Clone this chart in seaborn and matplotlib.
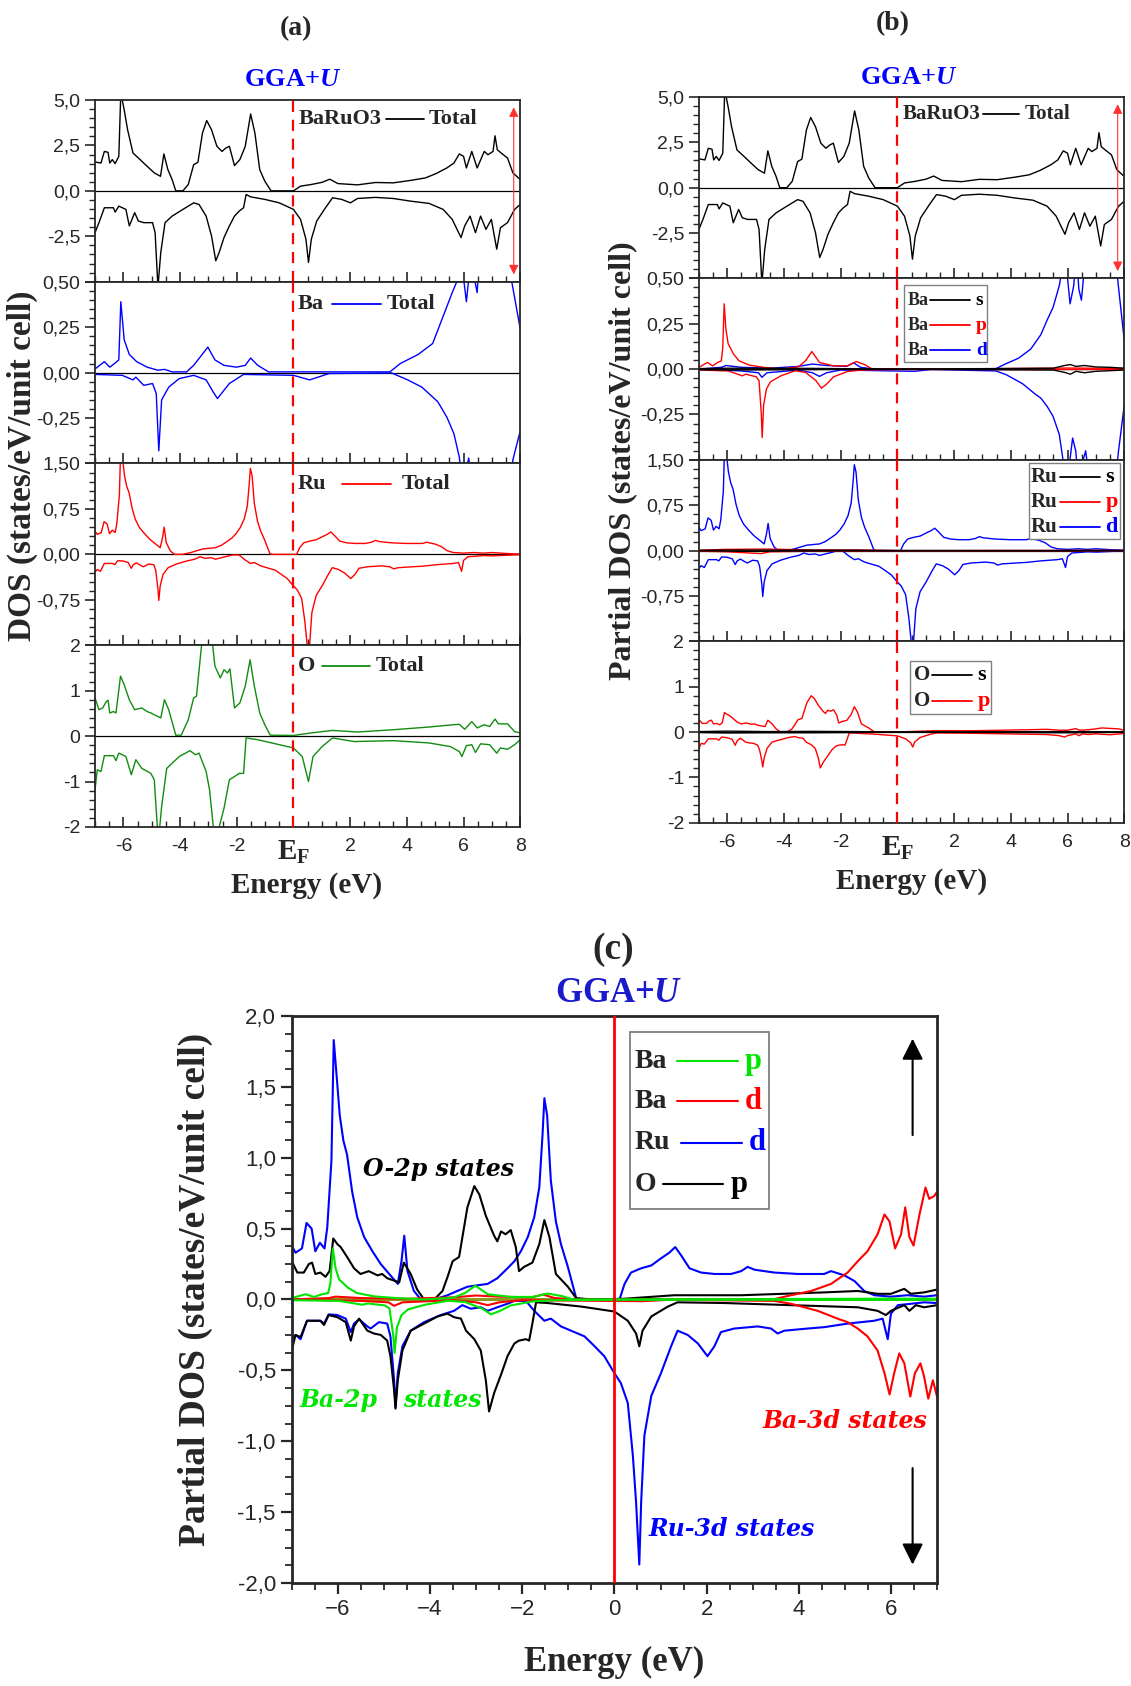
import numpy as np
import matplotlib
matplotlib.use("Agg")
import matplotlib.pyplot as plt
import seaborn as sns
from matplotlib.patches import Rectangle
from matplotlib.ticker import MultipleLocator

# ---- DOS curves: (energy eV, DOS) ----
TOT_UP = [(-7.0, 1.59), (-6.79, 1.53), (-6.67, 2.17), (-6.54, 2.12), (-6.48, 1.53), (-6.39, 1.72), (-6.29, 1.50),
          (-6.16, 1.90), (-6.09, 5.4), (-5.97, 4.45), (-5.85, 3.36), (-5.66, 2.08), (-5.41, 1.72), (-5.16, 1.35),
          (-4.91, 0.99), (-4.69, 0.80), (-4.57, 2.03), (-4.43, 1.17), (-4.28, 0.62), (-4.15, 0.0), (-3.90, 0.0),
          (-3.71, 0.35), (-3.52, 1.44), (-3.37, 1.57), (-3.21, 3.18), (-3.06, 3.87), (-2.89, 3.36), (-2.70, 2.45),
          (-2.52, 2.17), (-2.39, 2.35), (-2.26, 2.45), (-2.08, 1.39), (-1.89, 1.72), (-1.70, 2.45), (-1.51, 4.23),
          (-1.36, 3.18), (-1.19, 1.17), (-1.01, 0.53), (-0.79, 0.0), (0.0, 0.0), (0.25, 0.26), (0.63, 0.35),
          (1.01, 0.47), (1.28, 0.64), (1.57, 0.40), (2.26, 0.33), (2.89, 0.46), (3.52, 0.44), (4.15, 0.58),
          (4.65, 0.71), (5.03, 0.95), (5.41, 1.26), (5.66, 1.53), (5.85, 2.03), (6.0, 1.90), (6.10, 1.26),
          (6.29, 2.17), (6.48, 1.26), (6.73, 2.17), (6.86, 1.99), (7.04, 2.17), (7.11, 3.03), (7.19, 2.26),
          (7.36, 2.04), (7.55, 1.81), (7.74, 0.99), (8.0, 0.62)]
TOT_DN = [(-7.0, -2.30), (-6.86, -1.75), (-6.67, -0.93), (-6.35, -0.93), (-6.29, -1.17), (-6.16, -0.84), (-5.91, -1.02),
          (-5.79, -1.93), (-5.60, -1.20), (-5.47, -1.66), (-5.28, -1.75), (-4.97, -1.75), (-4.88, -2.30), (-4.78, -5.3),
          (-4.68, -3.39), (-4.53, -1.75), (-4.28, -1.39), (-3.90, -1.02), (-3.52, -0.66), (-3.33, -0.75), (-3.08, -1.39),
          (-2.89, -2.48), (-2.74, -3.85), (-2.62, -3.39), (-2.45, -2.57), (-2.26, -1.93), (-2.08, -1.39), (-1.91, -1.11),
          (-1.76, -0.93), (-1.67, -0.20), (-1.51, -0.33), (-1.01, -0.47), (-0.50, -0.66), (0.0, -1.02), (0.25, -1.57),
          (0.44, -2.66), (0.53, -3.94), (0.63, -2.66), (0.82, -1.66), (1.13, -0.93), (1.38, -0.38), (1.70, -0.47),
          (2.01, -0.66), (2.26, -0.42), (2.89, -0.36), (3.52, -0.42), (4.15, -0.57), (4.78, -0.69), (5.28, -1.02),
          (5.60, -1.57), (5.91, -2.57), (6.04, -1.93), (6.23, -1.39), (6.42, -2.30), (6.60, -1.39), (6.79, -2.12),
          (6.98, -1.57), (7.17, -3.21), (7.30, -2.03), (7.55, -1.75), (7.80, -1.02), (8.0, -0.75)]

BA_TOT_UP = [(-7.0, 0.02), (-6.67, 0.06), (-6.48, 0.03), (-6.31, 0.05), (-6.16, 0.07), (-6.09, 0.39), (-5.97, 0.18),
             (-5.79, 0.10), (-5.53, 0.06), (-5.16, 0.03), (-4.78, 0.013), (-4.55, 0.018), (-4.28, 0.004), (-3.77, 0.004),
             (-3.52, 0.04), (-3.27, 0.09), (-3.02, 0.14), (-2.77, 0.07), (-2.45, 0.04), (-2.01, 0.03), (-1.70, 0.04),
             (-1.51, 0.08), (-1.26, 0.04), (-0.88, 0.004), (3.40, 0.004), (3.77, 0.05), (4.40, 0.10), (4.91, 0.16),
             (5.28, 0.31), (5.60, 0.44), (5.76, 0.50), (5.90, 0.65), (6.10, 0.39), (6.25, 0.62), (6.48, 0.44),
             (6.60, 0.75), (7.0, 0.9), (7.5, 0.8), (7.70, 0.50), (8.0, 0.24)]
BA_TOT_DN = [(-7.0, -0.01), (-6.04, -0.015), (-5.66, -0.04), (-5.56, -0.025), (-5.28, -0.07), (-4.97, -0.06),
             (-4.84, -0.115), (-4.75, -0.43), (-4.65, -0.15), (-4.40, -0.08), (-4.03, -0.033), (-3.52, -0.015),
             (-3.08, -0.04), (-2.83, -0.107), (-2.68, -0.143), (-2.45, -0.097), (-2.26, -0.06), (-1.76, -0.01),
             (0.0, -0.015), (0.57, -0.04), (1.26, -0.005), (3.46, -0.002), (4.03, -0.04), (4.53, -0.08), (4.97, -0.143),
             (5.09, -0.16), (5.41, -0.245), (5.66, -0.336), (5.85, -0.465), (5.95, -0.60), (6.12, -0.52), (6.18, -0.47),
             (6.30, -0.60), (6.55, -0.52), (6.65, -0.65), (7.0, -0.8), (7.6, -0.7), (7.74, -0.48), (8.0, -0.32)]

O_TOT_UP = [(-7.0, 0.84), (-6.86, 0.58), (-6.73, 0.62), (-6.60, 0.76), (-6.54, 0.79), (-6.48, 0.51), (-6.35, 0.54),
            (-6.26, 0.51), (-6.10, 1.32), (-5.97, 1.13), (-5.79, 0.80), (-5.60, 0.58), (-5.35, 0.62), (-5.16, 0.54),
            (-5.03, 0.51), (-4.91, 0.47), (-4.68, 0.40), (-4.55, 0.80), (-4.40, 0.58), (-4.15, 0.02), (-3.96, 0.02),
            (-3.71, 0.36), (-3.52, 0.84), (-3.42, 0.88), (-3.21, 2.2), (-3.0, 2.3), (-2.85, 2.0), (-2.77, 1.54),
            (-2.58, 1.28), (-2.45, 1.46), (-2.33, 1.39), (-2.24, 1.48), (-2.08, 0.62), (-1.89, 0.73), (-1.70, 1.10),
            (-1.53, 1.68), (-1.38, 1.10), (-1.19, 0.51), (-1.01, 0.25), (-0.82, 0.02), (0.0, 0.015), (0.63, 0.07),
            (1.38, 0.125), (2.26, 0.09), (3.52, 0.14), (4.78, 0.20), (5.28, 0.23), (5.85, 0.26), (6.04, 0.15),
            (6.29, 0.32), (6.48, 0.18), (6.73, 0.25), (6.92, 0.21), (7.11, 0.375), (7.23, 0.27), (7.55, 0.27),
            (7.80, 0.10), (8.0, 0.07)]
O_TOT_DN = [(-7.0, -1.18), (-6.92, -0.74), (-6.79, -0.78), (-6.67, -0.43), (-6.35, -0.43), (-6.26, -0.54),
            (-6.16, -0.375), (-5.91, -0.45), (-5.72, -0.85), (-5.56, -0.52), (-5.35, -0.71), (-5.03, -0.82),
            (-4.91, -0.96), (-4.81, -1.92), (-4.76, -2.3), (-4.65, -1.55), (-4.47, -0.71), (-4.03, -0.45),
            (-3.65, -0.32), (-3.46, -0.41), (-3.33, -0.375), (-3.08, -0.78), (-2.96, -1.18), (-2.81, -2.1),
            (-2.72, -2.6), (-2.62, -2.0), (-2.45, -1.59), (-2.26, -0.96), (-2.08, -0.89), (-1.91, -0.82),
            (-1.76, -0.82), (-1.67, -0.04), (-1.26, -0.08), (0.0, -0.26), (0.31, -0.45), (0.53, -1.0), (0.69, -0.45),
            (1.01, -0.23), (1.38, -0.04), (1.76, -0.08), (2.14, -0.12), (3.52, -0.10), (4.78, -0.15), (5.53, -0.23),
            (5.85, -0.34), (5.94, -0.45), (6.10, -0.21), (6.29, -0.19), (6.42, -0.36), (6.60, -0.17), (6.92, -0.19),
            (7.17, -0.375), (7.30, -0.26), (7.55, -0.29), (7.80, -0.19), (8.0, -0.08)]

RU_D_UP = [(-7.0, 0.38), (-6.92, 0.33), (-6.78, 0.36), (-6.68, 0.54), (-6.57, 0.50), (-6.49, 0.34), (-6.39, 0.40),
           (-6.29, 0.36), (-6.23, 0.51), (-6.14, 0.98), (-6.09, 1.83), (-6.04, 1.63), (-5.96, 1.30), (-5.88, 1.12),
           (-5.80, 1.02), (-5.69, 0.76), (-5.58, 0.58), (-5.43, 0.44), (-5.25, 0.34), (-5.07, 0.25), (-4.86, 0.17),
           (-4.70, 0.11), (-4.62, 0.27), (-4.56, 0.45), (-4.49, 0.20), (-4.35, 0.06), (-4.20, 0.0), (-3.91, 0.0),
           (-3.62, 0.03), (-3.41, 0.06), (-3.19, 0.09), (-2.97, 0.10), (-2.75, 0.11), (-2.54, 0.15), (-2.32, 0.22),
           (-2.17, 0.27), (-2.03, 0.34), (-1.88, 0.44), (-1.74, 0.58), (-1.63, 0.79), (-1.56, 1.16), (-1.52, 1.42),
           (-1.46, 1.30), (-1.38, 0.84), (-1.27, 0.55), (-1.16, 0.39), (-1.01, 0.23), (-0.83, 0.01), (-0.75, 0.0),
           (0.11, 0.0), (0.22, 0.11), (0.36, 0.19), (0.58, 0.22), (0.80, 0.24), (1.01, 0.29), (1.19, 0.33),
           (1.32, 0.37), (1.45, 0.31), (1.63, 0.22), (1.88, 0.19), (2.17, 0.18), (2.53, 0.18), (2.75, 0.20),
           (2.89, 0.23), (3.04, 0.21), (3.47, 0.19), (3.98, 0.18), (4.55, 0.18), (4.70, 0.20), (4.99, 0.17),
           (5.21, 0.13), (5.42, 0.06), (5.64, 0.03), (6.0, 0.02), (6.36, 0.03), (6.72, 0.02), (7.0, 0.03),
           (7.5, 0.015), (8.0, 0.005)]
RU_D_DN = [(-7.0, -0.29), (-6.92, -0.25), (-6.81, -0.28), (-6.67, -0.15), (-6.38, -0.15), (-6.30, -0.17),
           (-6.20, -0.105), (-6.01, -0.11), (-5.83, -0.135), (-5.72, -0.23), (-5.65, -0.17), (-5.54, -0.14),
           (-5.36, -0.19), (-5.29, -0.205), (-5.11, -0.16), (-4.93, -0.17), (-4.86, -0.26), (-4.78, -0.57),
           (-4.75, -0.76), (-4.70, -0.52), (-4.60, -0.33), (-4.42, -0.22), (-4.13, -0.16), (-3.77, -0.11),
           (-3.48, -0.08), (-3.30, -0.04), (-3.12, -0.065), (-2.90, -0.055), (-2.75, -0.08), (-2.54, -0.055),
           (-2.32, -0.03), (-2.17, -0.01), (-1.92, -0.01), (-1.74, -0.08), (-1.52, -0.15), (-1.38, -0.135),
           (-1.16, -0.19), (-0.87, -0.23), (-0.65, -0.26), (-0.43, -0.33), (-0.22, -0.40), (0.0, -0.52),
           (0.14, -0.59), (0.29, -0.73), (0.40, -1.10), (0.47, -1.43), (0.54, -1.87), (0.58, -1.43), (0.65, -0.96),
           (0.80, -0.68), (1.01, -0.52), (1.23, -0.33), (1.37, -0.22), (1.59, -0.25), (1.81, -0.31), (2.02, -0.40),
           (2.17, -0.33), (2.31, -0.23), (2.60, -0.205), (3.11, -0.19), (3.40, -0.205), (3.54, -0.24), (3.69, -0.22),
           (4.19, -0.205), (4.56, -0.195), (5.06, -0.17), (5.64, -0.15), (5.82, -0.135), (5.93, -0.28), (6.0, -0.10),
           (6.15, -0.04), (6.44, -0.03), (6.72, -0.02), (7.0, -0.025), (7.5, -0.015), (8.0, -0.005)]

O_P_UP = [(-7.0, 0.27), (-6.88, 0.19), (-6.74, 0.19), (-6.63, 0.25), (-6.56, 0.26), (-6.49, 0.18), (-6.38, 0.19),
          (-6.27, 0.16), (-6.18, 0.20), (-6.10, 0.43), (-6.01, 0.39), (-5.94, 0.37), (-5.80, 0.30), (-5.65, 0.22),
          (-5.51, 0.18), (-5.33, 0.20), (-5.14, 0.17), (-5.04, 0.18), (-4.93, 0.15), (-4.75, 0.13), (-4.67, 0.12),
          (-4.57, 0.26), (-4.42, 0.18), (-4.28, 0.07), (-4.13, 0.0), (-3.91, 0.0), (-3.73, 0.06), (-3.62, 0.16),
          (-3.51, 0.27), (-3.37, 0.30), (-3.19, 0.65), (-3.04, 0.80), (-2.93, 0.74), (-2.79, 0.59), (-2.61, 0.45),
          (-2.54, 0.41), (-2.46, 0.48), (-2.36, 0.46), (-2.25, 0.49), (-2.14, 0.37), (-2.07, 0.20), (-1.96, 0.23),
          (-1.78, 0.26), (-1.63, 0.39), (-1.52, 0.56), (-1.41, 0.44), (-1.27, 0.18), (-1.01, 0.09), (-0.83, 0.01),
          (-0.5, 0.0), (0.2, 0.005), (1.3, 0.03), (2.75, 0.03), (4.55, 0.05), (5.28, 0.06), (5.71, 0.04), (6.0, 0.04),
          (6.29, 0.075), (6.43, 0.04), (6.72, 0.05), (7.0, 0.07), (7.2, 0.09), (7.5, 0.08), (7.8, 0.07), (8.0, 0.04)]
O_P_DN = [(-7.0, -0.36), (-6.92, -0.25), (-6.81, -0.265), (-6.67, -0.15), (-6.38, -0.15), (-6.30, -0.18),
          (-6.20, -0.11), (-6.01, -0.125), (-5.83, -0.16), (-5.72, -0.29), (-5.65, -0.19), (-5.54, -0.135),
          (-5.36, -0.22), (-5.22, -0.24), (-5.07, -0.25), (-4.93, -0.29), (-4.86, -0.40), (-4.78, -0.64),
          (-4.75, -0.77), (-4.70, -0.57), (-4.60, -0.36), (-4.42, -0.22), (-4.13, -0.17), (-3.84, -0.12),
          (-3.62, -0.10), (-3.48, -0.125), (-3.33, -0.135), (-3.22, -0.22), (-3.04, -0.28), (-2.90, -0.36),
          (-2.79, -0.57), (-2.72, -0.79), (-2.61, -0.66), (-2.46, -0.53), (-2.32, -0.40), (-2.17, -0.31),
          (-2.07, -0.29), (-1.92, -0.28), (-1.85, -0.29), (-1.78, -0.17), (-1.70, -0.02), (-1.45, -0.025),
          (-0.72, -0.05), (0.0, -0.085), (0.29, -0.15), (0.47, -0.24), (0.54, -0.33), (0.61, -0.22), (0.80, -0.12),
          (1.16, -0.05), (1.37, -0.02), (2.39, -0.025), (3.83, -0.04), (5.28, -0.055), (5.71, -0.08), (5.89, -0.11),
          (6.0, -0.08), (6.29, -0.04), (6.40, -0.08), (6.54, -0.04), (6.72, -0.055), (7.0, -0.04), (7.5, -0.06),
          (8.0, -0.03)]

BA_P_UP = [(-7.0, 0.01), (-6.7, 0.037), (-6.52, 0.018), (-6.34, 0.037), (-6.21, 0.046), (-6.16, 0.12), (-6.11, 0.36),
           (-6.05, 0.22), (-5.97, 0.14), (-5.78, 0.083), (-5.59, 0.046), (-5.22, 0.022), (-4.73, 0.01), (-4.11, 0.0),
           (-3.49, 0.013), (-3.24, 0.046), (-3.02, 0.097), (-2.85, 0.06), (-2.75, 0.037), (-2.25, 0.018),
           (-1.76, 0.018), (-1.45, 0.042), (-1.14, 0.024), (-0.89, 0.0), (3.0, 0.002), (6.0, 0.006), (7.0, 0.005),
           (8.0, 0.004)]
BA_P_DN = [(-7.0, -0.005), (-5.97, -0.01), (-5.47, -0.037), (-5.35, -0.028), (-4.98, -0.042), (-4.88, -0.064),
           (-4.80, -0.25), (-4.77, -0.377), (-4.72, -0.2), (-4.62, -0.11), (-4.48, -0.07), (-4.11, -0.037),
           (-3.61, -0.009), (-3.24, -0.018), (-2.87, -0.064), (-2.68, -0.105), (-2.50, -0.083), (-2.25, -0.042),
           (-1.76, -0.013), (-1.26, -0.005), (0.0, -0.002), (8.0, -0.002)]

BA_D_UP = [(-7.0, 0.0), (-6.2, 0.01), (-6.05, 0.02), (-5.5, 0.01), (-4.5, 0.005), (-3.5, 0.015), (-3.0, 0.028),
           (-2.5, 0.02), (-1.8, 0.015), (-1.55, 0.035), (-1.3, 0.01), (-0.8, 0.0), (3.44, 0.0), (3.83, 0.03),
           (4.27, 0.06), (4.70, 0.11), (5.06, 0.19), (5.28, 0.27), (5.49, 0.34), (5.71, 0.46), (5.86, 0.60),
           (5.97, 0.55), (6.09, 0.36), (6.22, 0.46), (6.31, 0.65), (6.40, 0.44), (6.49, 0.38), (6.62, 0.60),
           (6.75, 0.79), (6.83, 0.71), (6.94, 0.73), (7.0, 0.76), (7.3, 0.82), (7.6, 0.75), (7.8, 0.45), (8.0, 0.16)]
BA_D_DN = [(-7.0, 0.0), (-5.5, -0.01), (-4.9, -0.02), (-4.78, -0.045), (-4.6, -0.02), (-3.5, -0.005), (-3.0, -0.02),
           (-2.75, -0.04), (-2.5, -0.02), (-2.0, -0.005), (0.6, -0.012), (1.2, -0.002), (3.47, -0.01), (3.83, -0.03),
           (4.41, -0.08), (4.84, -0.135), (5.06, -0.16), (5.28, -0.205), (5.49, -0.26), (5.71, -0.36), (5.86, -0.52),
           (5.97, -0.67), (6.07, -0.52), (6.18, -0.38), (6.29, -0.45), (6.42, -0.685), (6.52, -0.52), (6.64, -0.45),
           (6.72, -0.545), (6.81, -0.70), (6.91, -0.57), (7.0, -0.685), (7.3, -0.8), (7.6, -0.75), (7.8, -0.45),
           (8.0, -0.2)]

BA_S_UP = [(-7.0, 0.003), (-6.0, 0.005), (-3.0, 0.004), (0.0, 0.0), (5.5, 0.005), (5.9, 0.02), (6.1, 0.025),
           (6.3, 0.015), (6.6, 0.02), (7.0, 0.012), (7.5, 0.01), (8.0, 0.005)]
BA_S_DN = [(-7.0, -0.003), (-6.0, -0.005), (0.0, 0.0), (5.5, -0.005), (5.9, -0.018), (6.1, -0.028), (6.3, -0.012),
           (6.6, -0.02), (7.0, -0.012), (8.0, -0.005)]
RU_S_UP = [(-7.0, 0.004), (-6.1, 0.008), (-1.5, 0.006), (0.0, 0.0), (8.0, 0.002)]
RU_S_DN = [(-7.0, -0.004), (-4.8, -0.01), (0.0, 0.0), (8.0, -0.002)]
RU_P_UP = [(-7.0, 0.005), (-6.1, 0.02), (-4.6, 0.025), (-3.0, 0.01), (-1.5, 0.01), (0.0, 0.0), (8.0, 0.003)]
RU_P_DN = [(-7.0, -0.01), (-6.0, -0.02), (-4.8, -0.05), (-4.5, -0.02), (-3.0, -0.01), (0.0, -0.003), (8.0, -0.003)]
O_S_UP = [(-7.0, 0.01), (-6.0, 0.02), (-4.6, 0.01), (-3.0, 0.015), (-1.5, 0.01), (0.0, 0.0), (6.0, 0.01), (8.0, 0.005)]
O_S_DN = [(-7.0, -0.01), (-6.0, -0.02), (-4.7, -0.015), (-3.0, -0.015), (-1.5, -0.01), (0.0, 0.0), (6.0, -0.015),
          (8.0, -0.005)]

# ---- styling ----
sns.set_style("ticks")
plt.rcParams['font.family'] = ['Liberation Sans', 'DejaVu Sans']
plt.rcParams['mathtext.fontset'] = 'custom'
plt.rcParams['mathtext.rm'] = 'Liberation Serif:bold'
plt.rcParams['mathtext.bf'] = 'Liberation Serif:bold'
plt.rcParams['mathtext.it'] = 'Liberation Serif:italic:bold'

SERIF = 'Liberation Serif'
ITAL = 'DejaVu Serif'
OGREEN = '#118c11'
LIME = '#00e600'


def curve(ax, pts, color, lw=1.0):
    arr = np.array(pts)
    sns.lineplot(x=arr[:, 0], y=arr[:, 1], ax=ax, color=color, lw=lw,
                 sort=False, estimator=None, legend=False)


def fmt(v, nd):
    if nd == 0:
        return '%d' % v
    return ('%.*f' % (nd, v)).replace('.', ',')


def legend_row(ax, y, left, l0, l1, right_x, right, color, size):
    ax.text(left[0], y, left[1], transform=ax.transAxes, ha='left', va='center',
            family=SERIF, weight='bold', size=size)
    ax.plot([l0, l1], [y, y], transform=ax.transAxes, color=color, lw=1.3)
    ax.text(right_x, y, right, transform=ax.transAxes, ha='left', va='center',
            family=SERIF, weight='bold', size=size)


ROWS = [(5.0, 2.5, 0.5, 1), (0.5, 0.25, 0.05, 2), (1.5, 0.75, 0.15, 2), (2.0, 1.0, 0.2, 0)]

fig = plt.figure(figsize=(11.31, 16.86), dpi=100)


def stack(left, right, top, bottom):
    h = (top - bottom) / 4
    axes = []
    for i, (lim, step, minor, nd) in enumerate(ROWS):
        ax = fig.add_axes([left, top - (i + 1) * h, right - left, h])
        ax.set_xlim(-7, 8)
        ax.set_ylim(-lim, lim)
        ticks = [-lim, -step, 0, step, lim]
        ax.set_yticks(ticks)
        labels = [fmt(t if t != 0 else 0.0, nd) for t in ticks]
        if i < 3:
            labels[0] = ''
        ax.set_yticklabels(labels)
        ax.yaxis.set_minor_locator(MultipleLocator(minor))
        ax.set_xticks([-6, -4, -2, 0, 2, 4, 6, 8])
        ax.xaxis.set_minor_locator(MultipleLocator(0.5))
        ax.tick_params(axis='x', which='major', direction='in', length=7, width=1.2)
        ax.tick_params(axis='x', which='minor', direction='in', length=4, width=1.0)
        ax.tick_params(axis='y', which='major', direction='out', length=7, width=1.2, labelsize=14)
        ax.tick_params(axis='y', which='minor', direction='out', length=4, width=1.0)
        if i < 3:
            ax.tick_params(axis='x', labelbottom=False)
        else:
            ax.set_xticklabels(['-6', '-4', '-2', r'$\mathbf{E_F}$', '2', '4', '6', '8'])
            ax.tick_params(axis='x', labelsize=14, pad=8)
            ax.get_xticklabels()[3].set_fontsize(21)
        for sp in ax.spines.values():
            sp.set_linewidth(1.3)
        ax.axhline(0, color='black', lw=0.9, zorder=1)
        ax.axvline(0, color='red', lw=1.6, ls=(0, (5, 3.5)), zorder=5)
        axes.append(ax)
    # spin arrow in the total panel
    axes[0].annotate('', xy=(7.77, 4.75), xytext=(7.77, -4.75),
                     arrowprops=dict(arrowstyle='<|-|>', color='#ff3030', lw=0.8, mutation_scale=14))
    return axes


# ---- panel (a) ----
A = stack(0.084, 0.460, 0.9407, 0.5095)
curve(A[0], TOT_UP, 'black'); curve(A[0], TOT_DN, 'black')
curve(A[1], BA_TOT_UP, 'blue'); curve(A[1], BA_TOT_DN, 'blue')
curve(A[2], RU_D_UP, 'red'); curve(A[2], RU_D_DN, 'red')
curve(A[3], O_TOT_UP, OGREEN); curve(A[3], O_TOT_DN, OGREEN)

legend_row(A[0], 0.896, (0.479, 'BaRuO3'), 0.685, 0.773, 0.785, 'Total', 'black', 16)
legend_row(A[1], 0.880, (0.477, 'Ba'), 0.557, 0.672, 0.685, 'Total', 'blue', 16)
legend_row(A[2], 0.888, (0.477, 'Ru'), 0.580, 0.695, 0.720, 'Total', 'red', 16)
legend_row(A[3], 0.885, (0.477, 'O'), 0.533, 0.647, 0.659, 'Total', OGREEN, 16)

# ---- panel (b) ----
B = stack(0.618, 0.994, 0.9425, 0.512)
curve(B[0], TOT_UP, 'black'); curve(B[0], TOT_DN, 'black')
for up, dn, c in [(BA_D_UP, BA_D_DN, 'blue'), (BA_P_UP, BA_P_DN, 'red'), (BA_S_UP, BA_S_DN, 'black')]:
    curve(B[1], up, c); curve(B[1], dn, c)
for up, dn, c in [(RU_D_UP, RU_D_DN, 'blue'), (RU_P_UP, RU_P_DN, 'red'), (RU_S_UP, RU_S_DN, 'black')]:
    curve(B[2], up, c); curve(B[2], dn, c)
for up, dn, c in [(O_P_UP, O_P_DN, 'red'), (O_S_UP, O_S_DN, 'black')]:
    curve(B[3], up, c); curve(B[3], dn, c)

legend_row(B[0], 0.905, (0.480, 'BaRuO3'), 0.667, 0.753, 0.766, 'Total', 'black', 15)

B[1].add_patch(Rectangle((0.483, 0.537), 0.195, 0.428, transform=B[1].transAxes,
                         facecolor='white', edgecolor='#808080', lw=1.0, zorder=6))
for y, lab, c in [(0.88, 's', 'black'), (0.743, 'p', 'red'), (0.605, 'd', 'blue')]:
    B[1].text(0.491, y, 'Ba', transform=B[1].transAxes, ha='left', va='center', family=SERIF,
              weight='bold', size=13, zorder=7)
    B[1].plot([0.543, 0.638], [y, y], transform=B[1].transAxes, color=c, lw=1.3, zorder=7)
    B[1].text(0.651, y, lab, transform=B[1].transAxes, ha='left', va='center', family=SERIF,
              weight='bold', size=14, color=c, zorder=7)

B[2].add_patch(Rectangle((0.775, 0.564), 0.214, 0.421, transform=B[2].transAxes,
                         facecolor='white', edgecolor='#808080', lw=1.0, zorder=6))
for y, lab, c in [(0.908, 's', 'black'), (0.77, 'p', 'red'), (0.632, 'd', 'blue')]:
    B[2].text(0.781, y, 'Ru', transform=B[2].transAxes, ha='left', va='center', family=SERIF,
              weight='bold', size=15, zorder=7)
    B[2].plot([0.849, 0.943], [y, y], transform=B[2].transAxes, color=c, lw=1.3, zorder=7)
    B[2].text(0.956, y, lab, transform=B[2].transAxes, ha='left', va='center', family=SERIF,
              weight='bold', size=16, color=c, zorder=7)

B[3].add_patch(Rectangle((0.496, 0.60), 0.19, 0.293, transform=B[3].transAxes,
                         facecolor='white', edgecolor='#808080', lw=1.0, zorder=6))
for y, lab, c in [(0.8125, 's', 'black'), (0.673, 'p', 'red')]:
    B[3].text(0.505, y, 'O', transform=B[3].transAxes, ha='left', va='center', family=SERIF,
              weight='bold', size=15, zorder=7)
    B[3].plot([0.547, 0.643], [y, y], transform=B[3].transAxes, color=c, lw=1.3, zorder=7)
    B[3].text(0.655, y, lab, transform=B[3].transAxes, ha='left', va='center', family=SERIF,
              weight='bold', size=16, color=c, zorder=7)

# ---- panel (c) ----
C = fig.add_axes([0.258, 0.0611, 0.5705, 0.3363])
C.set_xlim(-7, 7)
C.set_ylim(-2, 2)
C.axhline(0, color='#8c9a1e', lw=2.2, zorder=1)
curve(C, RU_D_UP, 'blue', 1.5); curve(C, RU_D_DN, 'blue', 1.5)
curve(C, O_P_UP, 'black', 1.5); curve(C, O_P_DN, 'black', 1.5)
curve(C, BA_D_UP, 'red', 1.5); curve(C, BA_D_DN, 'red', 1.5)
curve(C, BA_P_UP, LIME, 1.5); curve(C, BA_P_DN, LIME, 1.5)
C.axvline(0, color='red', lw=2.0, zorder=5)
yt = np.arange(-2.0, 2.01, 0.5)
C.set_yticks(yt)
C.set_yticklabels([fmt(abs(v) if v == 0 else v, 1) for v in yt])
C.set_xticks([-6, -4, -2, 0, 2, 4, 6])
C.xaxis.set_minor_locator(MultipleLocator(0.5))
C.yaxis.set_minor_locator(MultipleLocator(0.125))
C.tick_params(which='major', direction='out', length=8, width=1.6, labelsize=16)
C.tick_params(which='minor', direction='out', length=5, width=1.3)
for sp in C.spines.values():
    sp.set_linewidth(2.0)

C.annotate('', xy=(6.47, 1.86), xytext=(6.47, 1.14),
           arrowprops=dict(arrowstyle='-|>', color='black', lw=1.5, mutation_scale=32))
C.annotate('', xy=(6.47, -1.89), xytext=(6.47, -1.17),
           arrowprops=dict(arrowstyle='-|>', color='black', lw=1.5, mutation_scale=32))

ann = dict(family=ITAL, weight='bold', style='italic', size=17, ha='left', va='center')
C.text(-5.45, 0.92, 'O-2p states', color='black', **ann)
C.text(-6.83, -0.71, 'Ba-2p', color=LIME, **ann)
C.text(-4.58, -0.71, 'states', color=LIME, **ann)
C.text(3.22, -0.86, 'Ba-3d states', color='red', **ann)
C.text(0.74, -1.62, 'Ru-3d states', color='blue', **ann)

C.add_patch(Rectangle((0.524, 0.659), 0.215, 0.313, transform=C.transAxes,
                      facecolor='white', edgecolor='#808080', lw=1.3, zorder=6))
for y, el, x0, x1, xr, lab, c in [(0.92, 'Ba', 0.597, 0.691, 0.702, 'p', LIME),
                                   (0.85, 'Ba', 0.597, 0.691, 0.702, 'd', 'red'),
                                   (0.776, 'Ru', 0.603, 0.697, 0.708, 'd', 'blue'),
                                   (0.703, 'O', 0.575, 0.669, 0.680, 'p', 'black')]:
    C.text(0.531, y, el, transform=C.transAxes, ha='left', va='center', family=SERIF,
           weight='bold', size=20, zorder=7)
    C.plot([x0, x1], [y, y], transform=C.transAxes, color=c, lw=1.5, zorder=7)
    C.text(xr, y, lab, transform=C.transAxes, ha='left', va='center', family=SERIF,
           weight='bold', size=22, color=c, zorder=7)

# ---- figure texts ----
fig.text(0.262, 0.983, '(a)', ha='center', va='center', family=SERIF, weight='bold', size=20)
fig.text(0.789, 0.986, '(b)', ha='center', va='center', family=SERIF, weight='bold', size=20)
fig.text(0.542, 0.4366, '(c)', ha='center', va='center', family=SERIF, weight='bold', size=27)
fig.text(0.2585, 0.953, r'GGA+$\mathit{U}$', ha='center', va='center', family=SERIF, weight='bold',
         size=19, color='blue')
fig.text(0.803, 0.954, r'GGA+$\mathit{U}$', ha='center', va='center', family=SERIF, weight='bold',
         size=19, color='blue')
fig.text(0.547, 0.411, r'GGA+$\mathit{U}$', ha='center', va='center', family=SERIF, weight='bold',
         size=25, color='#1a1acc')

fig.text(0.020, 0.724, 'DOS (states/eV/unit cell)', rotation=90, ha='center', va='center',
         family=SERIF, weight='bold', size=24)
fig.text(0.551, 0.727, 'Partial DOS (states/eV/unit cell)', rotation=90, ha='center', va='center',
         family=SERIF, weight='bold', size=23)
fig.text(0.1724, 0.235, 'Partial DOS (states/eV/unit cell)', rotation=90, ha='center', va='center',
         family=SERIF, weight='bold', size=27)
fig.text(0.2714, 0.475, 'Energy (eV)', ha='center', va='center', family=SERIF, weight='bold', size=21)
fig.text(0.806, 0.477, 'Energy (eV)', ha='center', va='center', family=SERIF, weight='bold', size=21)
fig.text(0.543, 0.014, 'Energy (eV)', ha='center', va='center', family=SERIF, weight='bold', size=25)

fig.savefig('out.png', dpi=100)
